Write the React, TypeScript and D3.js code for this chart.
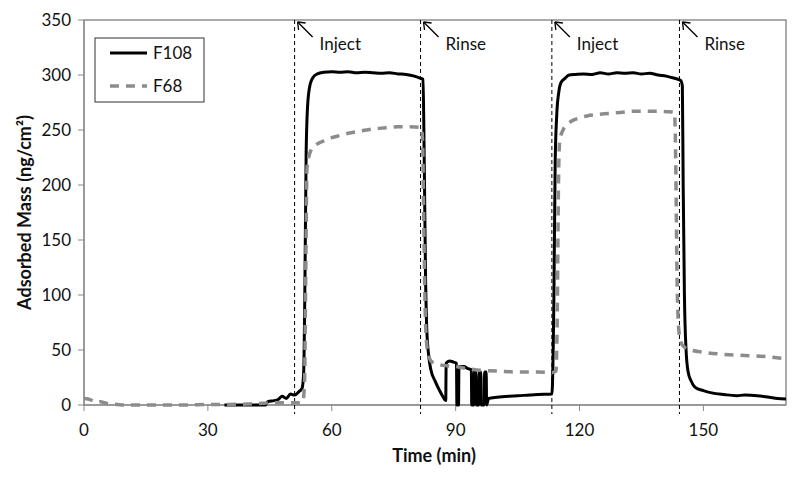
import React from "react";
import * as d3 from "d3";

const f108Time = [34, 40, 44, 44.5, 46, 47, 48, 49, 50, 51, 52, 52.8, 53.2, 53.5, 53.8, 54.2, 54.8, 55.5, 56.5, 58, 60, 62, 64, 66, 68, 70, 72, 74, 76, 78, 80, 81.5, 82.1, 82.4, 82.7, 83, 83.5, 84, 85, 86, 87, 87.6, 87.7, 88.5, 89.5, 90.2, 90.3, 90.7, 90.8, 92, 93, 93.8, 93.9, 94.4, 94.5, 94.9, 95, 95.6, 95.7, 96.1, 96.2, 96.9, 97, 97.4, 97.5, 97.8, 98, 100, 103, 105, 108, 110, 113.3, 113.8, 114.1, 114.5, 115, 115.5, 116.5, 117.5, 119, 121, 123, 125, 127, 129, 131, 133, 135, 137, 139, 141, 143, 144.5, 144.9, 145.1, 145.4, 145.8, 146.3, 147, 148, 150, 152, 155, 158, 160, 163, 166, 168, 170];
const f108Value = [0, 0, 0, 3, 4, 5, 8, 6, 10, 9, 12, 15, 30, 110, 230, 275, 292, 298, 301, 302.5, 303, 302.5, 303, 302, 302.5, 302, 301.5, 302, 301, 300.5, 299, 297, 296, 220, 120, 70, 44, 32, 22, 14, 7, 4, 38, 40, 39, 38, 0, 0, 35, 35, 33, 32, 0, 0, 31, 31, 0, 0, 30, 30, 0, 0, 30, 30, 0, 4, 6, 7, 8, 8.5, 9, 9.5, 10, 100, 220, 265, 285, 293, 297, 300, 300.5, 301, 300.5, 302, 301, 302, 301.5, 302, 301, 301.5, 300, 299, 297, 295, 290, 200, 100, 50, 30, 22, 16, 13, 11, 9.5, 8.5, 9, 8.5, 7, 6, 5.5];

const f68Time = [0, 1, 2, 3, 4, 5, 6, 8, 10, 15, 20, 25, 30, 35, 40, 43, 46, 50, 52, 53, 53.4, 53.7, 54, 54.4, 55, 56, 58, 60, 62, 64, 67, 70, 73, 76, 79, 81.7, 82, 82.3, 82.6, 83, 83.5, 84, 85, 87, 90, 93, 96, 100, 105, 110, 113.5, 114.3, 114.6, 114.9, 115.2, 116, 117, 118, 120, 122, 124, 127, 130, 133, 136, 139, 142, 143, 143.3, 143.6, 144, 144.5, 145, 147, 150, 155, 160, 165, 170];
const f68Value = [6, 5.5, 4, 2.5, 3, 2, 1, 0.5, 0, 0, 0, 0, 0.5, 0.5, 1, 1.5, 2, 2, 2, 3, 20, 120, 215, 225, 232, 236, 240, 243, 245, 247, 249, 251, 252, 253, 253, 252, 240, 160, 90, 55, 45, 40, 38, 36, 35, 33, 31.5, 31, 30, 30, 29.5, 31, 80, 200, 240, 250, 255, 258, 261, 263, 264, 265, 266, 267, 267, 267, 266.5, 266, 220, 120, 70, 58, 54, 50, 48, 46, 45, 44, 42];

const eventTimes = [51, 81.5, 113.3, 144.2];
const eventLabels = ["Inject", "Rinse", "Inject", "Rinse"];

const xTicks = [0, 30, 60, 90, 120, 150];
const yTicks = [0, 50, 100, 150, 200, 250, 300, 350];

const seriesNames = ["F108", "F68"];

const FONT = "Lato, 'Open Sans', sans-serif";

export default function App() {
  const left = 84, right = 786, top = 20, bottom = 405;
  const x = d3.scaleLinear().domain([0, 170]).range([left, right]);
  const y = d3.scaleLinear().domain([0, 350]).range([bottom, top]);

  const line = d3
    .line<[number, number]>()
    .x((d) => x(d[0]))
    .y((d) => y(d[1]))
    .curve(d3.curveMonotoneX);

  const f108 = f108Time.map((t, i) => [t, f108Value[i]] as [number, number]);
  const f68 = f68Time.map((t, i) => [t, f68Value[i]] as [number, number]);

  return (
    <svg width={800} height={479} style={{ display: "block", position: "absolute", left: 0, top: 0, background: "#fff" }}>
      <rect x={0} y={0} width={800} height={479} fill="#fff" />
      {/* plot border */}
      <rect x={left} y={top} width={right - left} height={bottom - top} fill="none" stroke="#595959" strokeWidth={1} />
      {/* axes */}
      <line x1={left} x2={left} y1={top} y2={bottom} stroke="#888" strokeWidth={1} />
      <line x1={left} x2={right} y1={bottom} y2={bottom} stroke="#888" strokeWidth={1} />
      {yTicks.map((t) => (
        <g key={"y" + t}>
          <line x1={left - 6} x2={left} y1={y(t)} y2={y(t)} stroke="#888" />
          <text x={left - 13} y={y(t)} dy="0.35em" textAnchor="end" fontFamily={FONT} fontSize={17} fill="#111">
            {t}
          </text>
        </g>
      ))}
      {xTicks.map((t) => (
        <g key={"x" + t}>
          <line x1={x(t)} x2={x(t)} y1={bottom} y2={bottom + 6} stroke="#888" />
          <text x={x(t)} y={bottom + 31} textAnchor="middle" fontFamily={FONT} fontSize={17} fill="#111">
            {t}
          </text>
        </g>
      ))}
      {/* event lines */}
      {eventTimes.map((t, i) => (
        <g key={"e" + i}>
          <line x1={x(t)} x2={x(t)} y1={top} y2={bottom + 9} stroke="#000" strokeWidth={1} strokeDasharray="4,3" />
          <line x1={x(t) + 18} y1={top + 17} x2={x(t) + 3} y2={top + 2} stroke="#000" strokeWidth={1.3} />
          <line x1={x(t) + 3} y1={top + 2} x2={x(t) + 11} y2={top + 3} stroke="#000" strokeWidth={1.3} />
          <line x1={x(t) + 3} y1={top + 2} x2={x(t) + 4} y2={top + 10} stroke="#000" strokeWidth={1.3} />
          <text x={x(t) + 25} y={top + 30} fontFamily={FONT} fontSize={17} fill="#111">
            {eventLabels[i]}
          </text>
        </g>
      ))}
      {/* series */}
      <path d={line(f108) || ""} fill="none" stroke="#000" strokeWidth={3} strokeLinejoin="round" />
      <path d={line(f68) || ""} fill="none" stroke="#8c8c8c" strokeWidth={3.5} strokeDasharray="9,7" />
      {/* legend */}
      <rect x={95} y={38} width={109} height={64} fill="#fff" stroke="#333" strokeWidth={1} />
      <line x1={110} x2={147} y1={53} y2={53} stroke="#000" strokeWidth={3} />
      <text x={153} y={53} dy="0.35em" fontFamily={FONT} fontSize={17} fill="#111">{seriesNames[0]}</text>
      <line x1={110} x2={147} y1={86} y2={86} stroke="#8c8c8c" strokeWidth={3.5} strokeDasharray="9,7" />
      <text x={153} y={86} dy="0.35em" fontFamily={FONT} fontSize={17} fill="#111">{seriesNames[1]}</text>
      {/* axis titles */}
      <text x={434} y={462} textAnchor="middle" fontFamily={FONT} fontSize={18} fontWeight="bold" fill="#111">
        Time (min)
      </text>
      <text transform={`translate(31,${(top + bottom) / 2}) rotate(-90)`} textAnchor="middle" fontFamily={FONT} fontSize={18} fontWeight="bold" fill="#111">
        Adsorbed Mass (ng/cm²)
      </text>
    </svg>
  );
}
